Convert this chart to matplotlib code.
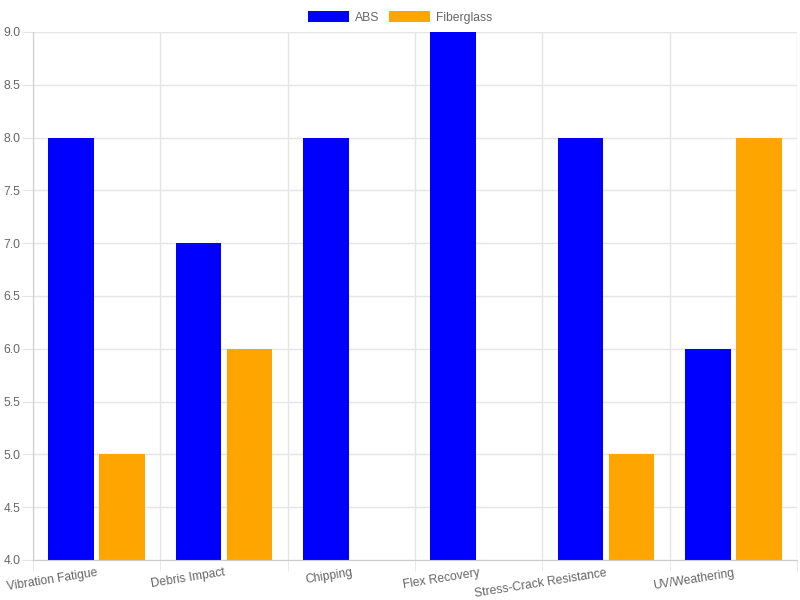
import numpy as np
import matplotlib
matplotlib.use("Agg")
from matplotlib import pyplot as plt

categories = ["Vibration Fatigue", "Debris Impact", "Chipping", "Flex Recovery",
              "Stress-Crack Resistance", "UV/Weathering"]
abs_values = [8, 7, 8, 9, 8, 6]
fiberglass_values = [5, 6, 4, 4, 5, 8]

plt.rcParams['font.family'] = ['Liberation Sans', 'DejaVu Sans']
text_color = '#666666'
grid_color = '#e5e5e5'

fig = plt.figure(figsize=(8, 6), dpi=100)
ax = fig.add_axes([33 / 800, 40 / 600, 764 / 800, 528 / 600])

x = np.arange(len(categories))
ax.bar(x - 0.2, np.array(abs_values) - 4, width=0.36, bottom=4,
       color='#0000ff', label='ABS')
ax.bar(x + 0.2, np.array(fiberglass_values) - 4, width=0.36, bottom=4,
       color='#ffa500', label='Fiberglass')

ax.set_xlim(-0.5, len(categories) - 0.5)
ax.set_ylim(4, 9)
ax.set_yticks(np.arange(4, 9.01, 0.5))
ax.set_yticklabels([f"{v:.1f}" for v in np.arange(4, 9.01, 0.5)])
ax.set_xticks(x)
ax.set_xticklabels(categories, rotation=9, ha='right', rotation_mode='anchor')
ax.set_xticks(np.arange(-0.5, len(categories)), minor=True)

ax.grid(True, which='major', axis='y', color=grid_color, linewidth=1)
ax.grid(True, which='minor', axis='x', color=grid_color, linewidth=1)
ax.set_axisbelow(True)
for s in ax.spines.values():
    s.set_visible(False)
ax.spines['left'].set_visible(True)
ax.spines['bottom'].set_visible(True)
ax.spines['left'].set_color('#cccccc')
ax.spines['bottom'].set_color('#cccccc')

ax.tick_params(axis='both', which='both', colors=text_color, labelsize=8.7)
ax.tick_params(axis='x', which='major', length=0, pad=5)
ax.tick_params(axis='x', which='minor', length=8, color=grid_color)
ax.tick_params(axis='y', length=8, color=grid_color, pad=1)

fig.legend(loc='upper center', bbox_to_anchor=(0.5, 0.995), ncol=2, frameon=False,
           fontsize=8.7, labelcolor=text_color, handlelength=3.4, handleheight=1.0,
           columnspacing=0.8, handletextpad=0.5, borderaxespad=0.3)

plt.savefig("out.png", dpi=100)
